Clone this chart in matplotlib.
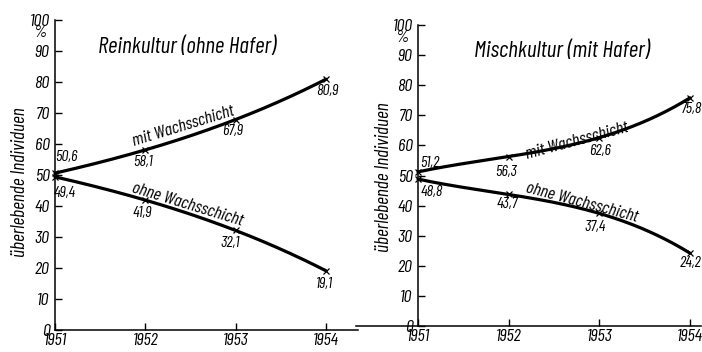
import numpy as np
import matplotlib
matplotlib.use('Agg')
import matplotlib.pyplot as plt
from matplotlib import font_manager as fm

# ---- data ----
years = [1951, 1952, 1953, 1954]
rein_mit = [50.6, 58.1, 67.9, 80.9]
rein_ohne = [49.4, 41.9, 32.1, 19.1]
misch_mit = [51.2, 56.3, 62.6, 75.8]
misch_ohne = [48.8, 43.7, 37.4, 24.2]
titles = ["Reinkultur (ohne Hafer)", "Mischkultur (mit Hafer)"]
series_names = ["mit Wachsschicht", "ohne Wachsschicht"]
y_ticks = [0, 10, 20, 30, 40, 50, 60, 70, 80, 90, 100]
x_ticks = [1951, 1952, 1953, 1954]
ylabel = "überlebende Individuen"

names = {f.name for f in fm.fontManager.ttflist}
FAMILY = 'DejaVu Sans'
for cand in ['Barlow Condensed', 'Roboto Condensed', 'Liberation Sans Narrow']:
    if cand in names:
        FAMILY = cand
        break
plt.rcParams['font.family'] = [FAMILY, 'DejaVu Sans']
plt.rcParams['font.style'] = 'italic'

fig = plt.figure(figsize=(7.02, 3.52), dpi=100)
W, H = 702, 352

def add_axes_px(x0, x1, ybot, ytop):
    return fig.add_axes([x0 / W, (H - ybot) / H, (x1 - x0) / W, (ybot - ytop) / H])

# left panel: 1951 at 55px, 90.33 px/yr, 0 at 330px, 100 at 20px
axL = add_axes_px(55, 358, 330, 20)
axL.set_xlim(1951, 1951 + 303 / 90.33)
# right panel: 1951 at 418px, 90.67 px/yr
axR = add_axes_px(356, 700.9, 326, 25)
axR.set_xlim(1951 - (418 - 356) / 90.67, 1951 + (700.9 - 418) / 90.67)

panels = [
    dict(ax=axL, mit=rein_mit, ohne=rein_ohne, title=titles[0],
         title_xy=(1952.46, 91.0),
         mit_lab=(1952.42, 65.8, 17), ohne_lab=(1952.47, 40.6, -17),
         mit_off=[(11, 16), (-2, -12), (-3, -11), (1, -12)],
         ohne_off=[(10, -16), (-3, -13), (-6, -13), (-2, -13)]),
    dict(ax=axR, mit=misch_mit, ohne=misch_ohne, title=titles[1],
         title_xy=(1952.59, 91.2),
         mit_lab=(1952.75, 61.6, 15), ohne_lab=(1952.81, 40.9, -15),
         mit_off=[(12, 9), (-3, -15), (1, -13), (1, -11)],
         ohne_off=[(14, -13), (-1, -10), (-4, -14), (1, -10)]),
]

for p in panels:
    ax = p['ax']
    ax.set_ylim(0, 100)
    for s in ['top', 'right']:
        ax.spines[s].set_visible(False)
    ax.spines['left'].set_position(('data', 1951))
    ax.spines['left'].set_bounds(0, 100)
    ax.spines['left'].set_linewidth(1.1)
    ax.spines['bottom'].set_linewidth(1.1)
    ax.patch.set_alpha(0)
    ax.set_yticks(y_ticks)
    ax.set_yticklabels([str(t) for t in y_ticks])
    ax.set_xticks(x_ticks)
    ax.set_xticklabels([str(t) for t in x_ticks])
    ax.tick_params(axis='y', direction='in', length=5, width=1, pad=4, labelsize=13)
    ax.tick_params(axis='x', direction='in', length=5, width=1, pad=2, labelsize=13)
    for lab in ax.get_xticklabels() + ax.get_yticklabels():
        lab.set_fontstyle('italic')

    xs = np.linspace(1951, 1954, 200)
    for vals, offs in [(p['mit'], p['mit_off']), (p['ohne'], p['ohne_off'])]:
        coef = np.polyfit(years, vals, 3)
        ax.plot(xs, np.polyval(coef, xs), color='black', lw=2.3,
                solid_capstyle='round', clip_on=False)
        ax.plot(years, vals, linestyle='none', marker='x', ms=4.5, mew=0.9,
                color='black', clip_on=False)
        for x, v, (dx, dy) in zip(years, vals, offs):
            ax.annotate(f"{v:.1f}".replace('.', ','), xy=(x, v),
                        xytext=(dx, dy), textcoords='offset pixels',
                        ha='center', va='center', fontsize=11.5,
                        fontstyle='italic', annotation_clip=False)

    x, y, r = p['mit_lab']
    ax.text(x, y, series_names[0], rotation=r, rotation_mode='anchor',
            ha='center', va='center', fontsize=13, fontstyle='italic')
    x, y, r = p['ohne_lab']
    ax.text(x, y, series_names[1], rotation=r, rotation_mode='anchor',
            ha='center', va='center', fontsize=13, fontstyle='italic')

    tx, ty = p['title_xy']
    ax.text(tx, ty, p['title'], ha='center', va='center', fontsize=16.8,
            fontstyle='italic')

    ax.annotate('%', xy=(1951, 96), xytext=(-15, 0), textcoords='offset pixels',
                ha='center', va='center', fontsize=12.5, fontstyle='italic',
                annotation_clip=False)

    ax.set_ylabel(ylabel, fontsize=14, fontstyle='italic')

axL.yaxis.set_label_coords((29 - 55) / 303, (330 - 182) / 310)
axR.yaxis.set_label_coords((393 - 356) / 344.9, (326 - 177) / 301)

fig.savefig('out.png', dpi=100)
